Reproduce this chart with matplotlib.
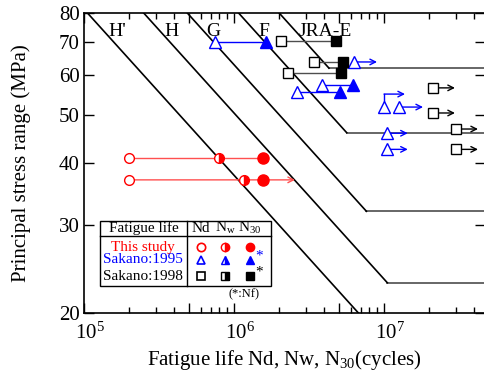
from matplotlib import pyplot as plt
from matplotlib.ticker import FixedLocator, FuncFormatter, NullFormatter, NullLocator
import matplotlib.transforms as mtransforms
import numpy as np

plt.rcParams['font.family'] = ['Liberation Serif', 'DejaVu Serif']
plt.rcParams['mathtext.fontset'] = 'custom'
plt.rcParams['mathtext.rm'] = 'Liberation Serif'
plt.rcParams['mathtext.it'] = 'Liberation Serif:italic'

# design curves (stress range at 2e6 cycles, cut-off limit)
cat_names = ["H'", 'H', 'G', 'F', 'JRA-E']
cat_s2e6 = [30, 40, 50, 65, 80]
cat_cutoff = [None, 23, 32, 46, 62]
cat_label_n = [1.66e5, 3.86e5, 7.25e5, 1.57e6, 4.04e6]

# This study
red_s = [41, 37]
red_nd = [1.98e5, 1.98e5]
red_nw = [7.9e5, 1.17e6]
red_n30 = [1.56e6, 1.56e6]
red_run = [None, 2.55e6]

# Sakano:1995 (Nd -> Nf)
b95_s = [70, 57.4, 55.5]
b95_nd = [7.47e5, 3.86e6, 2.63e6]
b95_nf = [1.63e6, 6.2e6, 5.09e6]
# Sakano:1995 run-outs
b95r_s = [63.8, 51.8, 45.9, 42.6]
b95r_n = [6.3e6, 1.26e7, 1.05e7, 1.05e7]
b95r_end = [8.98e6, 1.82e7, 1.44e7, 1.44e7]
# elbow run-out
b95e_s = 51.8
b95e_n = 1.0e7
b95e_s2 = 55.0
b95e_end = 1.38e7

# Sakano:1998 (Nd -> Nf)
k98_s = [70.2, 63.8, 60.6]
k98_nd = [2.06e6, 3.41e6, 2.29e6]
k98_nf = [4.79e6, 5.33e6, 5.2e6]
# Sakano:1998 run-outs
k98r_s = [56.6, 50.4, 46.8, 42.6]
k98r_n = [2.12e7, 2.12e7, 3.02e7, 3.02e7]
k98r_end = [2.97e7, 2.97e7, 4.23e7, 4.23e7]

xmin, xmax = 1e5, 4.71e7
ymin, ymax = 20, 80

fig = plt.figure(figsize=(4.85, 3.79), dpi=100)
ax = fig.add_axes([84 / 485, 1 - 313 / 379, 401 / 485, 300 / 379])
ax.set_xscale('log')
ax.set_yscale('log')
ax.set_xlim(xmin, xmax)
ax.set_ylim(ymin, ymax)

# design curves
for name, s2, cut, ln in zip(cat_names, cat_s2e6, cat_cutoff, cat_label_n):
    n_top = 2e6 * (s2 / ymax) ** 3
    if cut is None:
        n_end = 2e6 * (s2 / ymin) ** 3
        s_end = ymin
    else:
        n_end = 2e6 * (s2 / cut) ** 3
        s_end = cut
        ax.plot([n_end, xmax], [cut, cut], color='0.3', lw=1.2, zorder=1)
    ax.plot([n_top, n_end], [ymax, s_end], color='k', lw=1.2, zorder=1)
    ax.text(ln, 73.5, name, ha='center', va='center', fontsize=14)

arr = dict(arrowstyle='->', lw=1.0, mutation_scale=10, shrinkA=0, shrinkB=0)

# This study
for s, nd, nw, n30, run in zip(red_s, red_nd, red_nw, red_n30, red_run):
    end = run if run else n30
    if run:
        ax.annotate('', xy=(run, s), xytext=(nd, s),
                    arrowprops=dict(arr, color='#ff5050'), zorder=2)
    else:
        ax.plot([nd, end], [s, s], color='#ff5050', lw=1.0, zorder=2)
    ax.plot(nd, s, 'o', ms=7, mfc='white', mec='red', mew=1.0, zorder=3)
    ax.plot(nw, s, 'o', ms=7, mfc='red', mec='red', fillstyle='right',
            markerfacecoloralt='white', mew=1.0, zorder=3)
    ax.plot(n30, s, 'o', ms=8, color='red', zorder=3)

# Sakano:1995
for s, nd, nf in zip(b95_s, b95_nd, b95_nf):
    ax.plot([nd, nf], [s, s], color='blue', lw=1.0, zorder=2)
    ax.plot(nd, s, '^', ms=8, mfc='white', mec='blue', mew=1.0, zorder=3)
    ax.plot(nf, s, '^', ms=8, color='blue', zorder=3)
for s, n, e in zip(b95r_s, b95r_n, b95r_end):
    ax.annotate('', xy=(e, s), xytext=(n, s),
                arrowprops=dict(arr, color='blue'), zorder=2)
    ax.plot(n, s, '^', ms=8, mfc='white', mec='blue', mew=1.0, zorder=3)
ax.plot([b95e_n, b95e_n], [b95e_s, b95e_s2], color='blue', lw=1.0, zorder=2)
ax.annotate('', xy=(b95e_end, b95e_s2), xytext=(b95e_n, b95e_s2),
            arrowprops=dict(arr, color='blue'), zorder=2)
ax.plot(b95e_n, b95e_s, '^', ms=8, mfc='white', mec='blue', mew=1.0, zorder=3)

# Sakano:1998
for s, nd, nf in zip(k98_s, k98_nd, k98_nf):
    ax.plot([nd, nf], [s, s], color='0.3', lw=1.0, zorder=2)
    ax.plot(nd, s, 's', ms=7, mfc='white', mec='k', mew=1.0, zorder=3)
    ax.plot(nf, s, 's', ms=7, color='k', zorder=3)
for s, n, e in zip(k98r_s, k98r_n, k98r_end):
    ax.annotate('', xy=(e, s), xytext=(n, s),
                arrowprops=dict(arr, color='k'), zorder=2)
    ax.plot(n, s, 's', ms=7, mfc='white', mec='k', mew=1.0, zorder=3)

# axes / ticks
yt = [20, 30, 40, 50, 60, 70, 80]
ax.yaxis.set_major_locator(FixedLocator(yt))
ax.yaxis.set_major_formatter(FuncFormatter(lambda v, p: '%d' % v))
ax.yaxis.set_minor_locator(NullLocator())
xt = [1e5, 5e5, 1e6, 5e6, 1e7]
ax.xaxis.set_major_locator(FixedLocator(xt))
ax.xaxis.set_major_formatter(FuncFormatter(
    lambda v, p: r'$10^{%d}$' % round(np.log10(v)) if abs(np.log10(v) - round(np.log10(v))) < 1e-6 else ''))
minors = [m * 10 ** e for e in range(5, 8) for m in (2, 3, 4, 6, 7, 8, 9)]
ax.xaxis.set_minor_locator(FixedLocator(minors))
ax.xaxis.set_minor_formatter(NullFormatter())
ax.tick_params(which='both', direction='in', top=True, right=True, width=1.0)
ax.tick_params(which='major', length=7, labelsize=15)
ax.tick_params(which='minor', length=4)
ax.tick_params(axis='x', which='major', pad=7)
ax.tick_params(axis='y', which='major', pad=3)
for sp in ax.spines.values():
    sp.set_linewidth(1.2)

# shift x tick labels a little to the right, as in the reference
shift = mtransforms.ScaledTranslation(6 / 100, 0, fig.dpi_scale_trans)
for lab in ax.get_xticklabels():
    lab.set_transform(lab.get_transform() + shift)

ax.set_xlabel('Fatigue life Nd, Nw, N$_{30}$(cycles)', fontsize=15, labelpad=3)
ax.set_ylabel('Principal stress range (MPa)', fontsize=15, labelpad=20)

# legend table
tr = ax.transAxes
x0, x1, xd = 0.040, 0.466, 0.257
y0, y1, yd = 0.090, 0.307, 0.257
ax.add_patch(plt.Rectangle((x0, y0), x1 - x0, y1 - y0, transform=tr,
                           fill=True, fc='white', ec='k', lw=1.0, zorder=5))
ax.plot([xd, xd], [y0, y1], transform=tr, color='k', lw=1.0, zorder=6)
ax.plot([x0, x1], [yd, yd], transform=tr, color='k', lw=1.0, zorder=6)
ax.text(0.149, 0.282, 'Fatigue life', transform=tr, ha='center', va='center', fontsize=11, zorder=7)
cols = [0.292, 0.352, 0.414]
ax.text(cols[0], 0.282, 'Nd', transform=tr, ha='center', va='center', fontsize=11, zorder=7)
ax.text(cols[1], 0.282, 'N$_{\\mathrm{w}}$', transform=tr, ha='center', va='center', fontsize=11, zorder=7)
ax.text(cols[2], 0.282, 'N$_{30}$', transform=tr, ha='center', va='center', fontsize=11, zorder=7)
rows = [0.220, 0.177, 0.123]
row_names = ['This study', 'Sakano:1995', 'Sakano:1998']
row_cols = ['red', 'blue', 'k']
row_mk = ['o', '^', 's']
for yr, nm, c, mk in zip(rows, row_names, row_cols, row_mk):
    ax.text(0.147, yr, nm, transform=tr, ha='center', va='center', fontsize=11, color=c, zorder=7)
    ax.plot(cols[0], yr, mk, transform=tr, ms=6, mfc='white', mec=c, mew=1.2, zorder=7, clip_on=False)
    ax.plot(cols[1], yr, mk, transform=tr, ms=6, mfc=c, mec=c, mew=1.0, fillstyle='right',
            markerfacecoloralt='white', zorder=7, clip_on=False)
    ax.plot(cols[2], yr, mk, transform=tr, ms=6, color=c, zorder=7, clip_on=False)
    if mk != 'o':
        ax.text(0.428, yr + 0.012, '*', transform=tr, ha='left', va='center', fontsize=11, color=c, zorder=7)
ax.text(0.40, 0.063, '(*:Nf)', transform=tr, ha='center', va='center', fontsize=9, zorder=7)

fig.savefig('out.png', dpi=100)
